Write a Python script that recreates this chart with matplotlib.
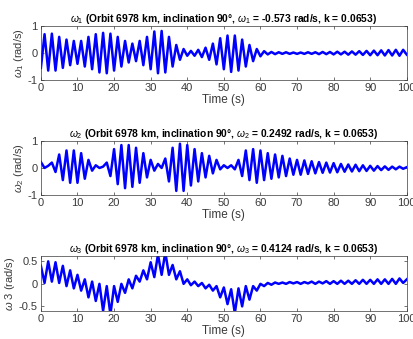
import matplotlib
matplotlib.use("Agg")
import matplotlib.pyplot as plt
import numpy as np

plt.rcParams['font.family'] = ['Liberation Sans', 'DejaVu Sans']
plt.rcParams['mathtext.fontset'] = 'custom'
plt.rcParams['mathtext.it'] = 'Liberation Sans:italic'
plt.rcParams['mathtext.rm'] = 'Liberation Sans'
plt.rcParams['mathtext.bf'] = 'Liberation Sans:bold'

# time of each extremum (s)
t = list(range(0, 101))

w1 = [-0.55, 0.7, -0.65, 0.72, -0.65, 0.6, -0.55, 0.5, -0.45, 0.45,
      -0.4, 0.45, -0.5, 0.6, -0.6, 0.7, -0.72, 0.75, -0.75, 0.72,
      -0.65, 0.6, -0.5, 0.45, -0.35, 0.35, -0.3, 0.45, -0.45, 0.6,
      -0.6, 0.8, -0.75, 0.82, -0.72, 0.6, -0.5, 0.3, -0.25, 0.15,
      -0.1, 0.08, -0.1, 0.12, -0.15, 0.2, -0.25, 0.35, -0.42, 0.55,
      -0.6, 0.65, -0.7, 0.65, -0.65, 0.5, -0.5, 0.3, -0.3, 0.15,
      -0.12, 0.07, -0.05, 0.04, -0.04, 0.03, -0.03, 0.03, -0.03, 0.02,
      -0.03, 0.02, -0.03, 0.03, -0.03, 0.03, -0.04, 0.04, -0.04, 0.04,
      -0.05, 0.05, -0.05, 0.05, -0.06, 0.06, -0.06, 0.07, -0.07, 0.08,
      -0.08, 0.09, -0.08, 0.1, -0.09, 0.11, -0.09, 0.12, -0.1, 0.12,
      -0.06]

w2 = [0.22, 0.0, 0.08, 0.2, -0.15, 0.5, -0.45, 0.65, -0.55, 0.65,
      -0.55, 0.55, -0.4, 0.3, -0.1, 0.1, 0.0, 0.05, 0.2, -0.3,
      0.7, -0.6, 0.85, -0.75, 0.85, -0.7, 0.75, -0.55, 0.55, -0.35,
      0.3, -0.1, 0.15, 0.0, 0.35, -0.5, 0.75, -0.85, 0.9, -0.85,
      0.85, -0.65, 0.7, -0.5, 0.55, -0.35, 0.45, -0.2, 0.3, -0.05,
      0.1, 0.0, 0.1, -0.05, 0.3, -0.3, 0.65, -0.45, 0.7, -0.55,
      0.65, -0.45, 0.55, -0.4, 0.5, -0.35, 0.45, -0.3, 0.35, -0.25,
      0.3, -0.25, 0.28, -0.22, 0.25, -0.2, 0.22, -0.18, 0.2, -0.17,
      0.18, -0.16, 0.15, -0.14, 0.13, -0.13, 0.12, -0.12, 0.1, -0.11,
      0.08, -0.1, 0.07, -0.08, 0.06, -0.07, 0.05, -0.05, 0.05, -0.03,
      0.03]

w3 = [0.4, 0.02, 0.5, 0.05, 0.48, 0.02, 0.4, -0.05, 0.3, -0.1,
      0.2, -0.15, 0.1, -0.3, 0.05, -0.38, 0.0, -0.6, -0.05, -0.68,
      -0.05, -0.4, 0.0, -0.2, 0.1, -0.1, 0.18, 0.05, 0.3, 0.1,
      0.48, 0.15, 0.65, 0.2, 0.7, 0.2, 0.42, 0.1, 0.28, 0.0,
      0.1, -0.03, 0.05, -0.05, 0.02, -0.1, -0.02, -0.15, -0.05, -0.3,
      -0.08, -0.45, -0.12, -0.65, -0.1, -0.5, -0.05, -0.35, -0.05, -0.15,
      0.0, -0.05, 0.02, -0.02, 0.03, 0.0, 0.03, 0.0, 0.04, 0.01,
      0.04, 0.0, 0.04, 0.01, 0.05, 0.0, 0.05, 0.01, 0.06, 0.0,
      0.06, 0.0, 0.07, 0.0, 0.07, 0.0, 0.08, 0.0, 0.09, 0.0,
      0.09, 0.0, 0.1, 0.0, 0.1, 0.0, 0.11, 0.0, 0.12, 0.02,
      0.1]

titles = [r"$\omega_1$ (Orbit 6978 km, inclination 90°, $\omega_1$ = -0.573 rad/s, k = 0.0653)",
          r"$\omega_2$ (Orbit 6978 km, inclination 90°, $\omega_2$ = 0.2492 rad/s, k = 0.0653)",
          r"$\omega_3$ (Orbit 6978 km, inclination 90°, $\omega_3$ = 0.4124 rad/s, k = 0.0653)"]
ylabels = [r"$\omega_1$ (rad/s)", r"$\omega_2$ (rad/s)", r"$\omega$ 3 (rad/s)"]

fig = plt.figure(figsize=(4.13, 3.39), dpi=100)
rects = [[0.099, 0.764, 0.886, 0.159],
         [0.099, 0.425, 0.886, 0.159],
         [0.099, 0.083, 0.886, 0.162]]
ylims = [(-1, 1), (-1, 1), (-0.6, 0.62)]
yticks = [[-1, 0, 1], [-1, 0, 1], [-0.5, 0, 0.5]]
yticklabels = [["-1", "0", "1"], ["-1", "0", "1"], ["-0.5", "0", "0.5"]]
gray = "#3a3a3a"

for i, w in enumerate([w1, w2, w3]):
    ax = fig.add_axes(rects[i])
    ax.plot(t, w, color='b', linewidth=1.8)
    ax.set_xlim([0, 100])
    ax.set_ylim(ylims[i])
    ax.set_xticks(np.arange(0, 101, 10))
    ax.set_yticks(yticks[i])
    ax.set_yticklabels(yticklabels[i])
    ax.tick_params(direction='in', top=True, right=True, labelsize=8,
                   length=2.5, width=0.5, colors=gray, labelcolor=gray, pad=2.5)
    for s in ax.spines.values():
        s.set_linewidth(0.5)
        s.set_color(gray)
    ax.set_title(titles[i], fontsize=7.4, fontweight='bold', pad=3)
    ax.set_xlabel("Time (s)", fontsize=8.5, color=gray, labelpad=0.5)
    ax.set_ylabel(ylabels[i], fontsize=8, color=gray, labelpad=1)

fig.savefig("out.png", dpi=100)
